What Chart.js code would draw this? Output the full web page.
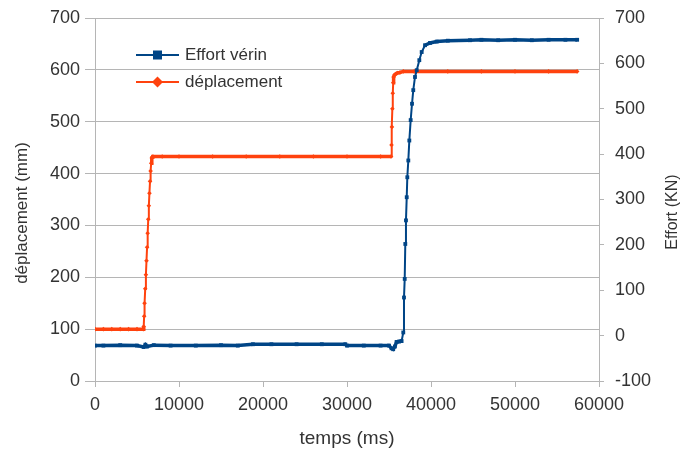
<!DOCTYPE html>
<html>
<head>
<meta charset="utf-8">
<script src="https://cdn.jsdelivr.net/npm/chart.js@4.4.1/dist/chart.umd.min.js"></script>
<style>
  html, body { margin: 0; padding: 0; background: #ffffff; }
  #wrap { width: 683px; height: 450px; }
</style>
</head>
<body>
<div id="wrap"><canvas id="chart" width="683" height="450"></canvas></div>
<script>
// temps (ms) / effort (kN) - axe de droite
const tempsEffort = [0, 1000, 3000, 5000, 5800, 6000, 6200, 7000, 9000, 12000, 15000, 17000, 18800, 21000, 24000, 27000, 29800, 30000, 32000, 34000, 35000, 35300, 35500, 35700, 35900, 36200, 36500,
  36700, 36785, 36870, 36940, 37020, 37110, 37180, 37300, 37420, 37580, 37740, 37890, 38095, 38300, 38610, 38890, 39290, 39880, 40680,
  42000, 44640, 46000, 48000, 50000, 52000, 54000, 56000, 57400];
const effort = [-22, -22, -21, -22, -25, -20, -24, -21, -22, -22, -21, -22, -19, -19, -19, -19, -19, -22, -22, -22, -22, -28, -30, -24, -14, -13, -12,
  7, 84, 125, 202, 254, 305, 349, 386, 430, 475, 511, 541, 570, 585, 607, 625, 640, 645, 648,
  650, 651, 652, 651, 652, 651, 652, 652, 652];

// temps (ms) / déplacement (mm) - axe de gauche
const tempsDepl = [0, 1000, 2000, 3000, 4000, 5000, 5750,
  5800, 5850, 5900, 5980, 6060, 6130, 6200, 6270, 6340, 6410, 6480, 6550, 6620, 6690, 6760, 6830, 6900,
  8000, 10000, 14000, 18000, 22000, 26000, 30000, 34000, 35250,
  35300, 35350, 35400, 35450, 35500, 35550, 35650, 35800, 36000, 36300, 36700,
  38000, 42000, 46000, 50000, 54000, 57400];
const deplacement = [100, 100, 100, 100, 100, 100, 100,
  105, 125, 150, 178, 205, 232, 258, 285, 312, 338, 362, 385, 405, 420, 430, 432,
  433, 433, 433, 433, 433, 433, 433, 433, 433, 433,
  455, 490, 525, 555, 575, 586, 590, 592, 594, 595, 597,
  597, 597, 597, 597, 597, 597];

const xTicks = [0, 10000, 20000, 30000, 40000, 50000, 60000];

const legendLabels = ['Effort vérin', 'déplacement'];
const seriesColors = ['#004586', '#ff420e'];

function pairs(xs, ys) {
  return xs.map((x, i) => ({ x: x, y: ys[i] }));
}

// flat stretches look heavier (markers packed together), steep ones thinner
function segWidth(ctx) {
  return Math.abs(ctx.p1.y - ctx.p0.y) > 6 ? 2 : 3.5;
}

const txt = '#333333';
const grid = '#b5b5b5';
const font = 'Liberation Sans, Arial, sans-serif';

const extras = {
  id: 'extras',
  afterDraw(chart) {
    const ctx = chart.ctx;
    const a = chart.chartArea;
    ctx.save();
    // axis titles (rotated, reading upward)
    ctx.fillStyle = txt;
    ctx.textAlign = 'center';
    ctx.textBaseline = 'middle';
    ctx.font = '17px ' + font;
    ctx.save();
    ctx.translate(22, 213);
    ctx.rotate(-Math.PI / 2);
    ctx.fillText('déplacement (mm)', 0, 0);
    ctx.restore();
    ctx.font = '16px ' + font;
    ctx.save();
    ctx.translate(673, 212);
    ctx.rotate(-Math.PI / 2);
    ctx.fillText('Effort (KN)', 0, 0);
    ctx.restore();

    // legend inside the plot
    const lx = a.left + 41;
    let ly = a.top + 37;
    legendLabels.forEach((label, i) => {
      ctx.strokeStyle = seriesColors[i];
      ctx.fillStyle = seriesColors[i];
      ctx.lineWidth = 2;
      ctx.beginPath();
      ctx.moveTo(lx, ly);
      ctx.lineTo(lx + 43, ly);
      ctx.stroke();
      const cx = lx + 21.5;
      if (i === 0) {
        ctx.fillRect(cx - 4.5, ly - 4.5, 9, 9);
      } else {
        ctx.beginPath();
        ctx.moveTo(cx, ly - 5.5);
        ctx.lineTo(cx + 5.5, ly);
        ctx.lineTo(cx, ly + 5.5);
        ctx.lineTo(cx - 5.5, ly);
        ctx.closePath();
        ctx.fill();
      }
      ctx.fillStyle = txt;
      ctx.textAlign = 'left';
      ctx.font = '17px ' + font;
      ctx.fillText(label, lx + 49, ly);
      ly += 27;
    });
    ctx.restore();
  }
};

function fixY(w) {
  return function (scale) {
    scale.width = w;
    scale.paddingTop = 0;
    scale.paddingBottom = 0;
  };
}

new Chart(document.getElementById('chart'), {
  type: 'line',
  data: {
    datasets: [
      {
        label: legendLabels[0],
        data: pairs(tempsEffort, effort),
        yAxisID: 'yEffort',
        borderColor: seriesColors[0],
        backgroundColor: seriesColors[0],
        borderWidth: 3,
        segment: { borderWidth: segWidth },
        pointStyle: 'rect',
        pointRadius: 2.7,
        pointBorderWidth: 0,
        tension: 0
      },
      {
        label: legendLabels[1],
        data: pairs(tempsDepl, deplacement),
        yAxisID: 'yDepl',
        borderColor: seriesColors[1],
        backgroundColor: seriesColors[1],
        borderWidth: 3,
        segment: { borderWidth: segWidth },
        pointStyle: 'rectRot',
        pointRadius: 2.3,
        pointBorderWidth: 0,
        tension: 0
      }
    ]
  },
  options: {
    responsive: false,
    animation: false,
    layout: { padding: { top: 18, left: 0, right: 0, bottom: 0 } },
    plugins: {
      legend: { display: false },
      tooltip: { enabled: false }
    },
    scales: {
      x: {
        type: 'linear',
        min: 0,
        max: 60000,
        afterBuildTicks(scale) { scale.ticks = xTicks.map(v => ({ value: v })); },
        afterFit(scale) { scale.height = 69; scale.paddingLeft = 0; scale.paddingRight = 0; },
        grid: { drawOnChartArea: false, color: grid, tickLength: 6 },
        border: { color: grid },
        ticks: { color: txt, font: { family: font, size: 18 }, padding: 7, maxRotation: 0, callback: v => String(v) },
        title: { display: true, text: 'temps (ms)', color: txt, font: { family: font, size: 19 }, padding: 0 }
      },
      yDepl: {
        position: 'left',
        min: 0,
        max: 700,
        afterFit: fixY(95),
        grid: { color: grid, tickLength: 10 },
        border: { color: grid },
        ticks: { stepSize: 100, color: txt, font: { family: font, size: 18 }, padding: 5 }
      },
      yEffort: {
        position: 'right',
        min: -100,
        max: 700,
        afterFit: fixY(84),
        grid: { drawOnChartArea: false, color: grid, tickLength: 5 },
        border: { color: grid },
        ticks: { stepSize: 100, color: txt, font: { family: font, size: 18 }, padding: 11 }
      }
    }
  },
  plugins: [extras]
});
</script>
</body>
</html>
